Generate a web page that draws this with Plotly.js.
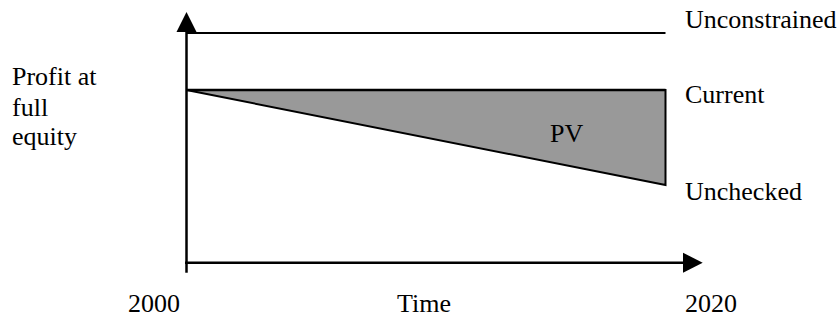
<!DOCTYPE html>
<html>
<head>
<meta charset="utf-8">
<script src="https://cdn.plot.ly/plotly-3.0.1.min.js"></script>
<style>html,body{margin:0;padding:0;background:#fff;}#chart{width:840px;height:318px;}</style>
</head>
<body>
<div id="chart"></div>
<script>
// ---- data ----
const years = [2000, 2020];
const unconstrained = [133, 133];
const current = [100, 100];
const unchecked = [100, 45];
const seriesNames = ["Unconstrained", "Current", "Unchecked"];
const areaLabel = "PV";
const yLabelLines = ["Profit at", "full", "equity"];
const xTickLabels = ["2000", "2020"];
const xTitle = "Time";

const FONT = {family: 'Liberation Serif, Times New Roman, Times, serif', size: 26, color: '#000'};

// PV region: polygon between current and unchecked
const pvX = years.concat(years.slice().reverse());
const pvY = current.concat(unchecked.slice().reverse());

const traces = [
  {x: pvX, y: pvY, mode: 'lines', fill: 'toself', fillcolor: 'rgb(153,153,153)',
   line: {color: '#000', width: 2}, hoverinfo: 'skip'},
  {x: years, y: current, mode: 'lines', line: {color: '#000', width: 2.5}, hoverinfo: 'skip'},
  {x: years, y: unconstrained, mode: 'lines', line: {color: '#000', width: 2}, hoverinfo: 'skip'}
];

const ann = (text, x, y, xanchor, xshift, yshift) => ({
  text, x, y, xref: 'x', yref: 'y', xanchor, yanchor: 'middle',
  xshift, yshift, showarrow: false, font: FONT
});

const annotations = [
  ann(seriesNames[0], years[1], unconstrained[1], 'left', 17.5, 13.8),
  ann(seriesNames[1], years[1], current[1], 'left', 17.5, -4.2),
  ann(seriesNames[2], years[1], unchecked[1], 'left', 17.5, -6.2),
  ann(areaLabel, years[1], current[1], 'center', -99.5, -43.2),
  ann(yLabelLines[0], years[0], current[0], 'left', -176.5, 13.8),
  ann(yLabelLines[1], years[0], current[0], 'left', -176.5, -17.9),
  ann(yLabelLines[2], years[0], current[0], 'left', -176.5, -46.2),
  ann(xTickLabels[0], years[0], 0, 'center', -32.5, -41),
  ann(xTickLabels[1], years[1], 0, 'center', 45.5, -41),
  ann(xTitle, (years[0] + years[1]) / 2, 0, 'center', -2, -41)
];

// axes with arrows, anchored at origin (years[0], 0), sizes in pixels
const axLine = {color: '#000', width: 2.5};
const shapes = [
  {type: 'line', xref: 'x', yref: 'y', xsizemode: 'pixel', ysizemode: 'pixel',
   xanchor: years[0], yanchor: 0, x0: 0, x1: 0, y0: -10, y1: 231, line: axLine},
  {type: 'line', xref: 'x', yref: 'y', xsizemode: 'pixel', ysizemode: 'pixel',
   xanchor: years[0], yanchor: 0, x0: -1.5, x1: 497, y0: 0, y1: 0, line: axLine},
  {type: 'path', xref: 'x', yref: 'y', xsizemode: 'pixel', ysizemode: 'pixel',
   xanchor: years[0], yanchor: 0, path: 'M -10 230.7 L 10 230.7 L 0 250.7 Z',
   fillcolor: '#000', line: {width: 0}},
  {type: 'path', xref: 'x', yref: 'y', xsizemode: 'pixel', ysizemode: 'pixel',
   xanchor: years[0], yanchor: 0, path: 'M 496.5 10 L 496.5 -10 L 516.2 0 Z',
   fillcolor: '#000', line: {width: 0}}
];

const layout = {
  width: 840, height: 318,
  margin: {l: 170, r: 126, t: 4, b: 38, pad: 0},
  paper_bgcolor: '#fff', plot_bgcolor: '#fff',
  showlegend: false, hovermode: false,
  xaxis: {range: [1999.311, 2022.025], visible: false, fixedrange: true},
  yaxis: {range: [-10, 149.8], visible: false, fixedrange: true},
  annotations, shapes, font: FONT
};

Plotly.newPlot('chart', traces, layout, {staticPlot: true, displayModeBar: false});
</script>
</body>
</html>
